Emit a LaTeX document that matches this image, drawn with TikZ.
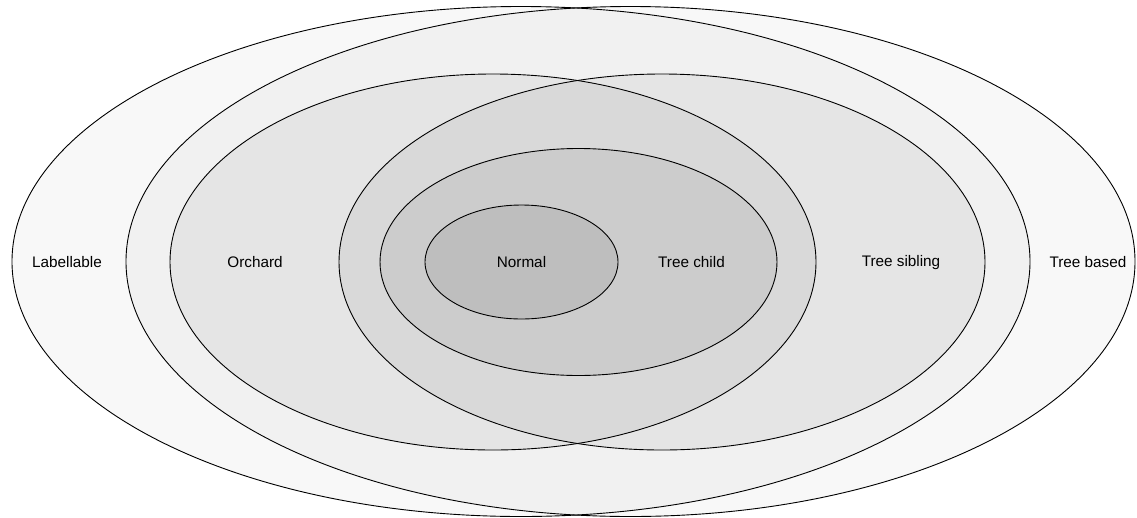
\documentclass[tikz,border=0pt]{standalone}
\usepackage{fontspec}
\setmainfont{Liberation Sans}
\usepackage{tikz}
\usetikzlibrary{positioning}
\definecolor{setlight}{RGB}{248,248,248}
\definecolor{setpale}{RGB}{241,241,241}
\definecolor{setmid}{RGB}{229,229,229}
\definecolor{setmeet}{RGB}{217,217,217}
\definecolor{setdeep}{RGB}{204,204,204}
\definecolor{setcore}{RGB}{190,190,190}

\begin{document}
\begin{tikzpicture}[x=1pt, y=-1pt, every node/.style={font=\fontsize{15.3}{18}\selectfont, anchor=base}, setline/.style={draw=black, line width=0.9pt}]
\useasboundingbox (0,0) rectangle (1137,517);
% two outer classes
\fill[setlight] (521,261.5) ellipse [x radius=509pt, y radius=255pt];
\fill[setlight] (630.5,261.5) ellipse [x radius=504.5pt, y radius=255pt];
\begin{scope}
\clip (521,261.5) ellipse [x radius=509pt, y radius=255pt];
\fill[setpale] (630.5,261.5) ellipse [x radius=504.5pt, y radius=255pt];
\end{scope}
% orchard and tree sibling
\fill[setmid] (493,262) ellipse [x radius=323pt, y radius=188pt];
\fill[setmid] (662,262) ellipse [x radius=323pt, y radius=188pt];
\begin{scope}
\clip (493,262) ellipse [x radius=323pt, y radius=188pt];
\fill[setmeet] (662,262) ellipse [x radius=323pt, y radius=188pt];
\end{scope}
% tree child and normal
\fill[setdeep] (578.5,262) ellipse [x radius=198.5pt, y radius=113.5pt];
\fill[setcore] (521.5,262) ellipse [x radius=96.5pt, y radius=57pt];
% outlines
\draw[setline] (521,261.5) ellipse [x radius=509pt, y radius=255pt];
\draw[setline] (630.5,261.5) ellipse [x radius=504.5pt, y radius=255pt];
\draw[setline] (493,262) ellipse [x radius=323pt, y radius=188pt];
\draw[setline] (662,262) ellipse [x radius=323pt, y radius=188pt];
\draw[setline] (578.5,262) ellipse [x radius=198.5pt, y radius=113.5pt];
\draw[setline] (521.5,262) ellipse [x radius=96.5pt, y radius=57pt];
% labels
\node (labellable) at (67,267.5) {Labellable};
\node (orchard) at (255,267.5) {Orchard};
\node (normal) at (521.5,267.5) {Normal};
\node (treechild) at (691.5,267.5) {Tree child};
\node (treesibling) at (901,266.5) {Tree sibling};
\node (treebased) at (1088,267.5) {Tree based};
\end{tikzpicture}
\end{document}
